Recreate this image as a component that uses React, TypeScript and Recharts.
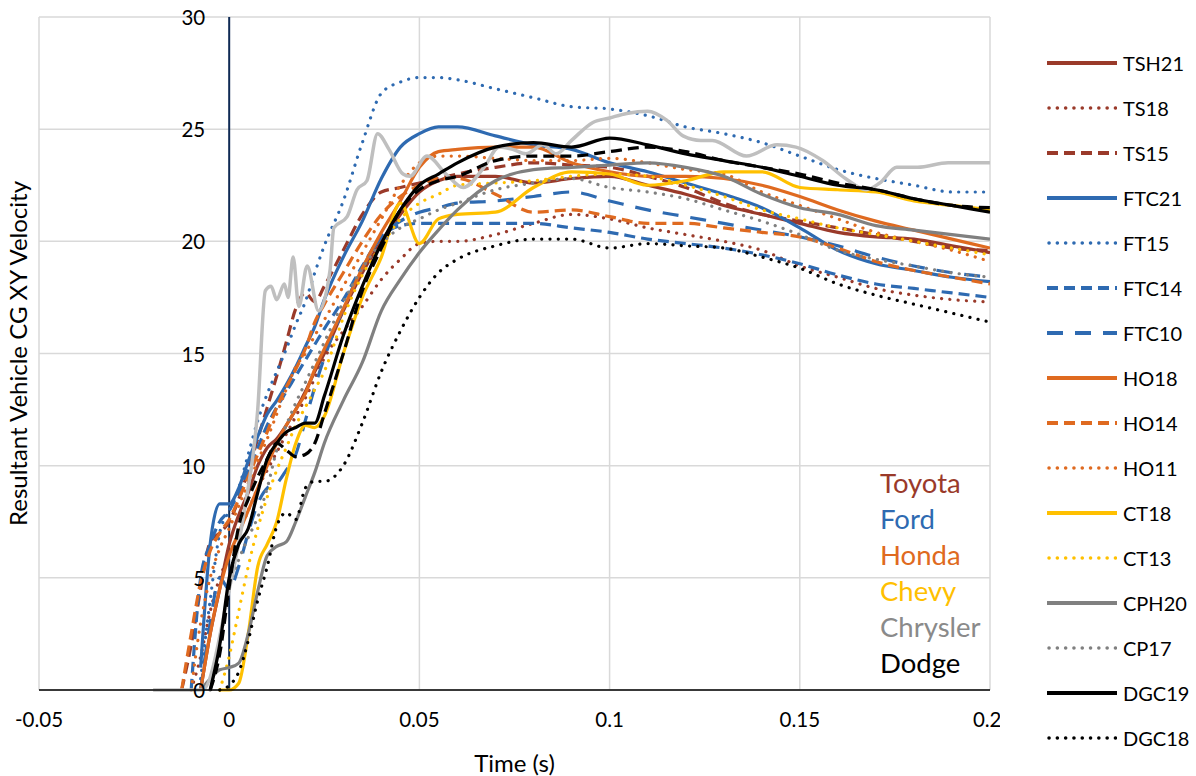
import React from 'react';
import { LineChart, Line, XAxis, YAxis, CartesianGrid, ReferenceLine } from 'recharts';

// shared time base (s)
const times = [
  -0.02, -0.015, -0.0125, -0.01, -0.0075, -0.005, -0.0025, 0, 0.0025, 0.005, 0.0075, 0.01, 0.0125,
  0.015, 0.0175, 0.02, 0.0225, 0.025, 0.03, 0.035, 0.04, 0.045, 0.05, 0.055, 0.06, 0.07, 0.08, 0.09,
  0.1, 0.11, 0.12, 0.13, 0.14, 0.15, 0.16, 0.17, 0.18, 0.19, 0.2,
];
const n = null;

// resultant velocity, one array per test
const tsh21 = [n, n, n, n, 0, 2.5, 4.5, 6.5, 7.8, 8.8, 10.0, 10.8, 11.2, 11.8, 12.5, 13.3, 14.2, 15.0, 16.9, 18.6, 20.0, 21.2, 22.2, 22.7, 22.9, 22.9, 22.6, 22.8, 22.9, 22.5, 22.1, 21.6, 21.2, 20.8, 20.4, 20.2, 20.1, 19.8, 19.5];
const ts18 = [n, n, n, 0, 1.5, 3.5, 5, 6, 7, 8, 9, 9.8, 10.6, 11.4, 12.2, 13.0, 13.9, 14.8, 16.0, 17.1, 18.3, 19.2, 19.9, 20.0, 20.0, 20.3, 20.8, 21.2, 21.0, 20.6, 20.3, 20.0, 19.6, 18.9, 18.4, 17.9, 17.6, 17.4, 17.3];
const ts15 = [n, n, 0, 2, 4.5, 6.6, 7.0, 7.5, 8.5, 9.8, 11.2, 12.6, 14.0, 15.5, 17.0, 17.7, 17.3, 18.0, 19.6, 21.2, 22.2, 22.4, 22.6, 22.8, 23.0, 23.3, 23.5, 23.4, 23.3, 22.9, 22.4, 21.7, 21.2, 20.9, 20.6, 20.3, 20.0, 19.7, 19.6];
const ftc21 = [n, n, n, n, 1, 6.5, 8.3, 8.3, 9.0, 10.2, 11.3, 12.3, 12.9, 13.6, 14.4, 15.3, 16.2, 17.4, 19.3, 20.9, 22.8, 24.2, 24.8, 25.1, 25.1, 24.7, 24.3, 24.1, 23.5, 23.1, 22.6, 22.1, 21.5, 20.6, 19.6, 19.0, 18.7, 18.4, 18.2];
const ft15 = [n, n, n, n, 0.5, 4, 7, 8, 9, 10.5, 12, 13.2, 14.2, 15.2, 16.3, 17.3, 18.6, 19.8, 21.8, 24.4, 26.6, 27.1, 27.3, 27.3, 27.2, 26.8, 26.4, 26.0, 25.9, 25.6, 25.1, 24.8, 24.4, 23.8, 23.2, 22.8, 22.5, 22.2, 22.2];
const ftc14 = [n, n, n, 0, 5, 6.5, 7.5, 8.0, 8.8, 9.8, 10.8, 11.8, 12.6, 13.3, 14.0, 14.7, 15.4, 16.1, 17.4, 18.9, 20.2, 20.7, 20.8, 20.8, 20.8, 20.8, 20.8, 20.6, 20.4, 20.1, 19.9, 19.7, 19.4, 19.0, 18.5, 18.1, 17.9, 17.7, 17.5];
const ftc10 = [n, n, n, n, 0, 3, 5, 4.5, 5.5, 7, 8.3, 9.0, 9.2, 9.8, 10.5, 12.0, 13.5, 14.8, 17.0, 18.8, 20.2, 20.9, 21.3, 21.5, 21.7, 21.8, 22.0, 22.2, 21.8, 21.4, 21.1, 20.8, 20.5, 20.2, 19.8, 19.3, 18.9, 18.6, 18.4];
const ho18 = [n, n, n, n, 0, 2.5, 4.5, 6.0, 7, 8, 9, 10, 11, 11.8, 12.5, 13.2, 14.3, 15.2, 17.0, 18.8, 20.4, 21.8, 23.3, 24.0, 24.1, 24.2, 24.2, 23.5, 23.1, 22.9, 22.9, 22.8, 22.5, 22.0, 21.4, 20.9, 20.5, 20.1, 19.7];
const ho14 = [n, n, 0, 2.5, 4.8, 6.2, 7.0, 7.6, 8.5, 9.5, 10.5, 11.5, 12.6, 13.5, 14.3, 15.2, 16.4, 17.2, 18.6, 20.0, 21.2, 22.0, 22.5, 22.8, 22.8, 22.1, 21.3, 21.4, 21.1, 20.8, 20.8, 20.6, 20.4, 20.2, 19.7, 19.1, 18.7, 18.4, 18.1];
const ho11 = [n, n, n, 0, 3, 5, 6.3, 7.2, 8.2, 9.2, 10.2, 11.2, 12.3, 13.4, 14.4, 15.0, 15.8, 16.5, 18.0, 19.5, 21.0, 22.5, 23.5, 23.8, 23.8, 23.7, 23.6, 23.6, 23.7, 23.5, 23.2, 23.0, 22.2, 21.6, 21.0, 20.4, 20.0, 19.6, 19.1];
const ct18 = [n, n, n, n, n, n, 0, 0, 0.3, 2.5, 5.5, 6.5, 7.5, 9.4, 11.0, 11.8, 11.7, 12.2, 15.0, 17.5, 19.3, 21.7, 19.9, 21.0, 21.2, 21.3, 22.4, 23.1, 23.0, 22.5, 22.7, 23.1, 23.1, 22.4, 22.3, 22.2, 21.8, 21.6, 21.4];
const ct13 = [n, n, n, n, n, n, 0, 1.5, 3.5, 5.5, 7.2, 8.6, 9.8, 10.8, 11.8, 12.6, 13.4, 14.2, 16.6, 18.5, 19.8, 21.0, 21.7, 22.1, 22.5, 22.6, 22.7, 22.9, 23.0, 22.9, 22.5, 22.0, 21.4, 21.0, 20.6, 20.3, 20.0, 19.7, 19.4];
const cph20 = [n, n, n, n, 0, 0.5, 0.9, 1.0, 1.2, 2.5, 4.4, 6.0, 6.4, 6.6, 7.5, 8.6, 9.7, 11.0, 12.9, 14.6, 16.9, 18.3, 19.5, 20.5, 21.4, 22.7, 23.2, 23.3, 23.4, 23.5, 23.3, 22.9, 22.1, 21.5, 21.2, 20.7, 20.5, 20.3, 20.1];
const cp17 = [n, n, n, n, n, 0, 2, 4.5, 5.8, 6.8, 7.7, 9.0, 10.7, 11.8, 12.8, 13.7, 14.6, 15.5, 17.3, 18.8, 19.9, 20.6, 21.0, 21.4, 21.7, 22.3, 22.6, 22.8, 22.4, 22.2, 21.9, 21.4, 20.9, 20.3, 19.6, 19.2, 18.9, 18.6, 18.4];
const dgc19 = [n, n, n, n, n, 0, 2.0, 5.0, 6.5, 7.2, 8.8, 10.3, 11.0, 11.5, 11.7, 11.9, 11.9, 13.1, 15.8, 18.0, 19.9, 21.4, 22.5, 23.0, 23.5, 24.2, 24.4, 24.2, 24.6, 24.3, 23.9, 23.6, 23.3, 22.9, 22.5, 22.3, 21.9, 21.6, 21.3];
const dgc18 = [n, n, n, n, n, n, 0, 0.2, 0.8, 2.2, 4.0, 5.5, 7.3, 7.9, 7.6, 9.0, 9.3, 9.3, 10.0, 11.9, 14.2, 16.0, 17.5, 18.6, 19.2, 19.8, 20.1, 20.1, 19.7, 19.9, 19.8, 19.7, 19.3, 18.8, 18.1, 17.6, 17.2, 16.8, 16.4];
// two traces that are plotted but not in the legend
const dodgeDash = [n, n, n, n, n, 0, 1.6, 4.6, 7.3, 8.5, 9.5, 10.3, 11.0, 10.7, 10.4, 10.5, 11.0, 12.3, 15.0, 17.8, 19.7, 21.4, 22.3, 22.7, 22.9, 23.6, 23.8, 23.8, 24.0, 24.2, 24.0, 23.6, 23.3, 23.0, 22.6, 22.3, 21.9, 21.6, 21.5];
const chryslerLightT = [-0.02, -0.007, 0, 0.004, 0.0075, 0.0095, 0.011, 0.0125, 0.0145, 0.0155, 0.0168, 0.0183, 0.0205, 0.0235, 0.0265, 0.0275, 0.031, 0.0336, 0.0362, 0.039, 0.042, 0.0457, 0.0475, 0.052, 0.057, 0.0615, 0.067, 0.071, 0.0745, 0.078, 0.0825, 0.086, 0.09, 0.0956, 0.1, 0.1045, 0.11, 0.115, 0.1193, 0.124, 0.127, 0.136, 0.144, 0.149, 0.156, 0.162, 0.1675, 0.171, 0.1755, 0.181, 0.189, 0.2];
const chryslerLightV = [0, 0, 4.5, 8, 12.5, 17.8, 18.0, 17.4, 18.1, 17.5, 19.3, 17.1, 18.9, 16.9, 18.7, 20.6, 21.1, 22.3, 22.7, 24.8, 24.1, 23.0, 22.9, 23.8, 23.0, 22.4, 23.3, 24.2, 24.1, 23.9, 24.3, 23.9, 24.5, 25.3, 25.5, 25.7, 25.8, 25.4, 24.7, 24.5, 24.5, 23.8, 24.3, 24.2, 23.6, 22.8, 22.3, 22.6, 23.3, 23.3, 23.5, 23.5];

const xTicks = [-0.05, 0, 0.05, 0.1, 0.15, 0.2];
const yTicks = [0, 5, 10, 15, 20, 25, 30];
const makers = ['Toyota', 'Ford', 'Honda', 'Chevy', 'Chrysler', 'Dodge'];

const RED = '#9A3A2A';
const BLUE = '#2E6AB1';
const ORANGE = '#DF6A20';
const YELLOW = '#FFC000';
const GRAY = '#808080';
const LIGHT = '#BFBFBF';
const makerColors = [RED, BLUE, ORANGE, YELLOW, '#8A8A8A', '#000000'];

const FONT = 'Lato, "Open Sans", sans-serif';
const SOLID = '';
const DOT = '0.1 8.2';
const DASH = '11 6';
const LONG = '16 12';

const toRows = (ts: number[], vs: (number | null)[]) =>
  ts.map((t, i) => ({ t, v: vs[i] })).filter((d) => d.v !== null);

const series = [
  { name: 'TSH21', vals: tsh21, color: RED, dash: SOLID },
  { name: 'TS18', vals: ts18, color: RED, dash: DOT },
  { name: 'TS15', vals: ts15, color: RED, dash: DASH },
  { name: 'FTC21', vals: ftc21, color: BLUE, dash: SOLID },
  { name: 'FT15', vals: ft15, color: BLUE, dash: DOT },
  { name: 'FTC14', vals: ftc14, color: BLUE, dash: DASH },
  { name: 'FTC10', vals: ftc10, color: BLUE, dash: LONG },
  { name: 'HO18', vals: ho18, color: ORANGE, dash: SOLID },
  { name: 'HO14', vals: ho14, color: ORANGE, dash: DASH },
  { name: 'HO11', vals: ho11, color: ORANGE, dash: DOT },
  { name: 'CT18', vals: ct18, color: YELLOW, dash: SOLID },
  { name: 'CT13', vals: ct13, color: YELLOW, dash: DOT },
  { name: 'CPH20', vals: cph20, color: GRAY, dash: SOLID },
  { name: 'CP17', vals: cp17, color: GRAY, dash: DOT },
  { name: 'DGC19', vals: dgc19, color: '#000000', dash: SOLID },
  { name: 'DGC18', vals: dgc18, color: '#000000', dash: DOT },
];

// plot frame
const CHART_W = 1000;
const CHART_H = 776;
const MARGIN = { top: 17, right: 10, left: 0, bottom: 0 };
const Y_AXIS_W = 39;
const X_AXIS_H = 86;
const X_MIN = -0.05;
const X_MAX = 0.2;
const plotW = CHART_W - MARGIN.right - Y_AXIS_W;
const zeroX = Y_AXIS_W + ((0 - X_MIN) / (X_MAX - X_MIN)) * plotW;

const YTick = (props: any) => {
  const { y, payload } = props;
  return (
    <text x={zeroX - 24} y={y} textAnchor="end" dominantBaseline="central" fontSize={20.5} fontFamily={FONT} fill="#000">
      {payload.value}
    </text>
  );
};

const seriesLine = (s: (typeof series)[number]) => (
  <Line
    key={s.name}
    data={toRows(times, s.vals)}
    dataKey="v"
    type="monotone"
    stroke={s.color}
    strokeWidth={3.2}
    strokeDasharray={s.dash || undefined}
    strokeLinecap={s.dash === DOT ? 'round' : 'butt'}
    dot={false}
    isAnimationActive={false}
  />
);

const App: React.FC = () => {
  return (
    <div style={{ position: 'absolute', left: 0, top: 0, width: 1196, height: 776, background: '#fff', fontFamily: FONT }}>
      <LineChart width={CHART_W} height={CHART_H} margin={MARGIN}>
        <CartesianGrid stroke="#D9D9D9" strokeWidth={1.5} />
        <XAxis
          type="number"
          dataKey="t"
          domain={[X_MIN, X_MAX]}
          ticks={xTicks}
          allowDataOverflow
          height={X_AXIS_H}
          tickLine={false}
          tickMargin={16}
          axisLine={{ stroke: '#000', strokeWidth: 1.5 }}
          tick={{ fill: '#000', fontSize: 20.5, fontFamily: FONT }}
          label={{ value: 'Time (s)', position: 'insideBottom', offset: 4, fill: '#000', fontSize: 24, fontFamily: FONT }}
        />
        <YAxis
          type="number"
          domain={[0, 30]}
          ticks={yTicks}
          width={Y_AXIS_W}
          axisLine={false}
          tickLine={false}
          tick={<YTick />}
          label={{ value: 'Resultant Vehicle CG XY Velocity', angle: -90, position: 'center', dx: -1, fill: '#000', fontSize: 24, fontFamily: FONT }}
        />
        <ReferenceLine x={0} stroke="#0F2B55" strokeWidth={2} />
        {series.slice(0, 14).map(seriesLine)}
        <Line
          data={toRows(chryslerLightT, chryslerLightV)}
          dataKey="v"
          type="monotone"
          stroke={LIGHT}
          strokeWidth={3.5}
          dot={false}
          isAnimationActive={false}
        />
        {series.slice(14).map(seriesLine)}
        <Line
          data={toRows(times, dodgeDash)}
          dataKey="v"
          type="monotone"
          stroke="#000"
          strokeWidth={3.2}
          strokeDasharray={DASH}
          dot={false}
          isAnimationActive={false}
        />
      </LineChart>

      {/* maker colour key inside the plot */}
      <div style={{ position: 'absolute', left: 880, top: 465 }}>
        {makers.map((m, i) => (
          <div key={m} style={{ color: makerColors[i], fontSize: 27.5, lineHeight: '36px', height: 36 }}>
            {m}
          </div>
        ))}
      </div>

      {/* legend */}
      <div style={{ position: 'absolute', left: 1047, top: 40 }}>
        {series.map((s) => (
          <div key={s.name} style={{ display: 'flex', alignItems: 'center', height: 45 }}>
            <svg width={70} height={10} style={{ display: 'block' }}>
              <line
                x1={s.dash === DOT ? 2 : 0}
                y1={5}
                x2={70}
                y2={5}
                stroke={s.color}
                strokeWidth={s.dash === DOT ? 3.5 : 4}
                strokeDasharray={s.dash || undefined}
                strokeLinecap={s.dash === DOT ? 'round' : 'butt'}
              />
            </svg>
            <span style={{ marginLeft: 6, fontSize: 20, color: '#000' }}>{s.name}</span>
          </div>
        ))}
      </div>
    </div>
  );
};

export default App;
